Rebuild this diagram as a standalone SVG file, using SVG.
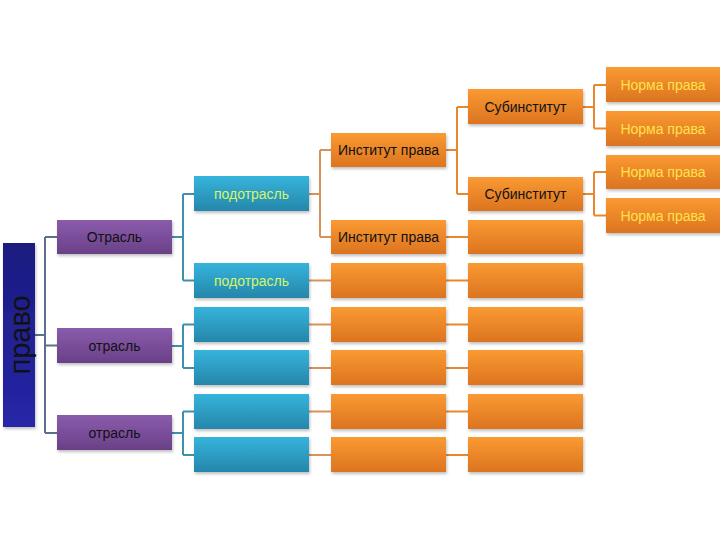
<svg xmlns="http://www.w3.org/2000/svg" width="720" height="540" viewBox="0 0 720 540">
<defs>
<linearGradient id="gPravo" x1="0" y1="0" x2="0" y2="1"><stop offset="0" stop-color="#1c1c80"/><stop offset="1" stop-color="#2626a8"/></linearGradient>
<linearGradient id="gPur" x1="0" y1="0" x2="0" y2="1"><stop offset="0" stop-color="#8a5cac"/><stop offset="1" stop-color="#6a4088"/></linearGradient>
<linearGradient id="gBlue" x1="0" y1="0" x2="0" y2="1"><stop offset="0" stop-color="#36b4dc"/><stop offset="1" stop-color="#2586aa"/></linearGradient>
<linearGradient id="gOr" x1="0" y1="0" x2="0" y2="1"><stop offset="0" stop-color="#fa9a32"/><stop offset="1" stop-color="#dc7420"/></linearGradient>
<filter id="sh" x="-10%" y="-20%" width="130%" height="150%"><feDropShadow dx="1" dy="2" stdDeviation="1.5" flood-color="#000" flood-opacity="0.25"/></filter>
</defs>
<style>
.pur{fill:url(#gPur);filter:url(#sh)}
.blue{fill:url(#gBlue);filter:url(#sh)}
.or{fill:url(#gOr);filter:url(#sh)}
.t{font-family:"Liberation Sans",Arial,sans-serif;font-size:14px;text-anchor:middle;dominant-baseline:central}
.k{fill:#111}
.g{fill:#d4f56a}
.y{fill:#ffe24a}
.c1{stroke:#5c6f8c;stroke-width:2;fill:none}
.c2{stroke:#3f8fae;stroke-width:2;fill:none}
.c3{stroke:#d9925a;stroke-width:2;fill:none}
.c4{stroke:#e8872e;stroke-width:2;fill:none}
</style>
<rect width="720" height="540" fill="#fff"/>
<g id="connectors">
<path class="c1" d="M35 335H45M45 237V433M45 237H57M45 345.5H57M45 433H57"/>
<path class="c2" d="M172 237H183M183 194V280.5M183 194H194M183 280.5H194"/>
<path class="c2" d="M172 346H183M183 324.5V368M183 324.5H194M183 368H194"/>
<path class="c2" d="M172 433H183M183 411.5V455M183 411.5H194M183 455H194"/>
<path class="c3" d="M309 194H320M320 150V237M320 150H331M320 237H331"/>
<path class="c3" d="M309 280.5H331M309 324.5H331M309 368H331M309 411.5H331M309 455H331"/>
<path class="c4" d="M446 150H457M457 107V194M457 107H468M457 194H468M446 237H468"/>
<path class="c4" d="M446 280.5H468M446 324.5H468M446 368H468M446 411.5H468M446 455H468"/>
<path class="c4" d="M583 107H594M594 85V128.5M594 85H606M594 128.5H606"/>
<path class="c4" d="M583 194H594M594 172V215.5M594 172H606M594 215.5H606"/>
</g>
<g id="pravo">
<rect x="3" y="243" width="32" height="184" fill="url(#gPravo)" filter="url(#sh)"/>
<text transform="translate(30 335) rotate(-90)" font-family="Liberation Sans,Arial,sans-serif" font-size="29" text-anchor="middle" fill="#111">право</text>
</g>
<g id="otrasl1"><rect class="pur" x="57" y="220" width="115" height="34"/><text class="t k" x="114.5" y="237">Отрасль</text></g>
<g id="otrasl2"><rect class="pur" x="57" y="328" width="115" height="35"/><text class="t k" x="114.5" y="345.5">отрасль</text></g>
<g id="otrasl3"><rect class="pur" x="57" y="415" width="115" height="35"/><text class="t k" x="114.5" y="432.5">отрасль</text></g>
<g id="podotrasl1"><rect class="blue" x="194" y="176" width="115" height="35"/><text class="t g" x="251.5" y="193.5">подотрасль</text></g>
<g id="podotrasl2"><rect class="blue" x="194" y="263" width="115" height="35"/><text class="t g" x="251.5" y="280.5">подотрасль</text></g>
<g id="blue3"><rect class="blue" x="194" y="307" width="115" height="35"/></g>
<g id="blue4"><rect class="blue" x="194" y="350" width="115" height="35"/></g>
<g id="blue5"><rect class="blue" x="194" y="394" width="115" height="35"/></g>
<g id="blue6"><rect class="blue" x="194" y="437" width="115" height="35"/></g>
<g id="inst1"><rect class="or" x="331" y="133" width="115" height="34"/><text class="t k" x="388.5" y="150">Институт права</text></g>
<g id="inst2"><rect class="or" x="331" y="220" width="115" height="34"/><text class="t k" x="388.5" y="237">Институт права</text></g>
<g id="or1-3"><rect class="or" x="331" y="263" width="115" height="35"/></g>
<g id="or1-4"><rect class="or" x="331" y="307" width="115" height="35"/></g>
<g id="or1-5"><rect class="or" x="331" y="350" width="115" height="35"/></g>
<g id="or1-6"><rect class="or" x="331" y="394" width="115" height="35"/></g>
<g id="or1-7"><rect class="or" x="331" y="437" width="115" height="35"/></g>
<g id="sub1"><rect class="or" x="468" y="89" width="115" height="35"/><text class="t k" x="525.5" y="106.5">Субинститут</text></g>
<g id="sub2"><rect class="or" x="468" y="177" width="115" height="34"/><text class="t k" x="525.5" y="194">Субинститут</text></g>
<g id="or2-3"><rect class="or" x="468" y="220" width="115" height="34"/></g>
<g id="or2-4"><rect class="or" x="468" y="263" width="115" height="35"/></g>
<g id="or2-5"><rect class="or" x="468" y="307" width="115" height="35"/></g>
<g id="or2-6"><rect class="or" x="468" y="350" width="115" height="35"/></g>
<g id="or2-7"><rect class="or" x="468" y="394" width="115" height="35"/></g>
<g id="or2-8"><rect class="or" x="468" y="437" width="115" height="35"/></g>
<g id="norma1"><rect class="or" x="606" y="67" width="116" height="35"/><text class="t y" x="663" y="84.5">Норма права</text></g>
<g id="norma2"><rect class="or" x="606" y="111" width="116" height="35"/><text class="t y" x="663" y="128.5">Норма права</text></g>
<g id="norma3"><rect class="or" x="606" y="155" width="116" height="34"/><text class="t y" x="663" y="172">Норма права</text></g>
<g id="norma4"><rect class="or" x="606" y="198" width="116" height="35"/><text class="t y" x="663" y="215.5">Норма права</text></g>
</svg>
